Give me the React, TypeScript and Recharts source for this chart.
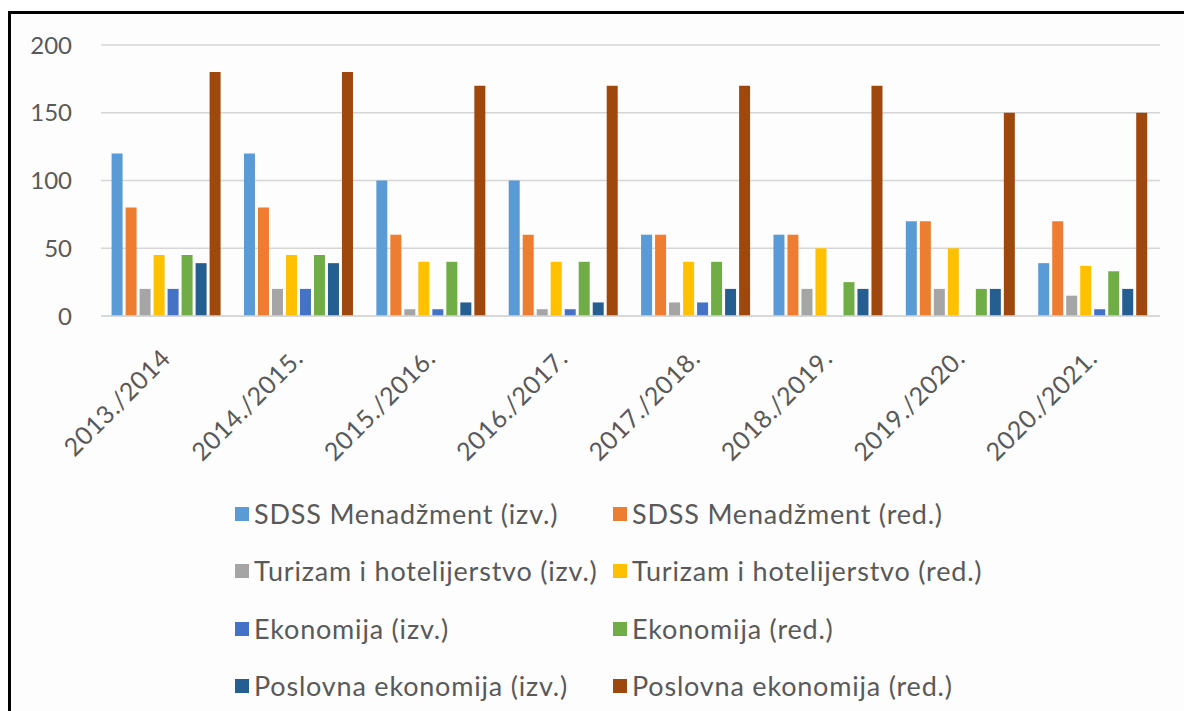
import React from "react";
import { BarChart, Bar, XAxis, YAxis, CartesianGrid, Legend } from "recharts";

const categories = [
  "2013./2014",
  "2014./2015.",
  "2015./2016.",
  "2016./2017.",
  "2017./2018.",
  "2018./2019.",
  "2019./2020.",
  "2020./2021.",
];

const sdssIzv = [120, 120, 100, 100, 60, 60, 70, 39];
const sdssRed = [80, 80, 60, 60, 60, 60, 70, 70];
const turizamIzv = [20, 20, 5, 5, 10, 20, 20, 15];
const turizamRed = [45, 45, 40, 40, 40, 50, 50, 37];
const ekonomijaIzv = [20, 20, 5, 5, 10, 0, 0, 5];
const ekonomijaRed = [45, 45, 40, 40, 40, 25, 20, 33];
const poslovnaIzv = [39, 39, 10, 10, 20, 20, 20, 20];
const poslovnaRed = [180, 180, 170, 170, 170, 170, 150, 150];

const yTicks = [0, 50, 100, 150, 200];

const seriesNames = [
  "SDSS Menadžment (izv.)",
  "SDSS Menadžment (red.)",
  "Turizam i hotelijerstvo (izv.)",
  "Turizam i hotelijerstvo (red.)",
  "Ekonomija (izv.)",
  "Ekonomija (red.)",
  "Poslovna ekonomija (izv.)",
  "Poslovna ekonomija (red.)",
];
const seriesValues = [
  sdssIzv,
  sdssRed,
  turizamIzv,
  turizamRed,
  ekonomijaIzv,
  ekonomijaRed,
  poslovnaIzv,
  poslovnaRed,
];
const seriesColors = [
  "#5B9BD5",
  "#ED7D31",
  "#A5A5A5",
  "#FFC000",
  "#4472C4",
  "#70AD47",
  "#255E91",
  "#9E480E",
];

const data = categories.map((c, i) => {
  const row: Record<string, string | number> = { name: c };
  seriesNames.forEach((s, k) => {
    row["s" + k] = seriesValues[k][i];
  });
  return row;
});

const FONT = "Lato, 'Open Sans', sans-serif";
const TEXT = "#595959";

const XTick = (props: any) => {
  const { x, y, payload } = props;
  return (
    <g transform={`translate(${x + 5},${y + 44})`}>
      <text
        transform="rotate(-45)"
        textAnchor="end"
        fill={TEXT}
        fontSize={25}
        fontFamily={FONT}
        letterSpacing={0.5}
      >
        {payload.value}
      </text>
    </g>
  );
};

const LegendContent = () => {
  return (
    <div style={{ position: "relative", width: 1173, height: 226 }}>
      {seriesNames.map((name, i) => {
        const col = i % 2;
        const row = Math.floor(i / 2);
        const left = col === 0 ? 224 : 602;
        const centerY = 28.75 + row * 57.5;
        return (
          <div
            key={name}
            style={{
              position: "absolute",
              left,
              top: centerY - 16,
              height: 32,
              display: "flex",
              alignItems: "center",
              whiteSpace: "nowrap",
            }}
          >
            <span
              style={{
                display: "inline-block",
                width: 14,
                height: 14,
                background: seriesColors[i],
                marginRight: 5,
              }}
            />
            <span
              style={{
                fontFamily: FONT,
                fontSize: 27,
                letterSpacing: "0.8px",
                color: TEXT,
                lineHeight: "32px",
              }}
            >
              {name}
            </span>
          </div>
        );
      })}
    </div>
  );
};

export default function App() {
  return (
    <>
      <style>{`body{margin:0;overflow:hidden;background:#fff}`}</style>
      <div
        style={{
          position: "absolute",
          left: 8,
          top: 11,
          width: 1176,
          height: 700,
          boxSizing: "border-box",
          borderTop: "3px solid #000",
          borderLeft: "3px solid #000",
          background: "#fdfdfd",
          overflow: "hidden",
        }}
      >
        <BarChart
          width={1173}
          height={697}
          data={data}
          margin={{ top: 31, right: 24, left: 30, bottom: 0 }}
          barGap={3}
          barCategoryGap="8%"
        >
          <CartesianGrid vertical={false} stroke="#d6d6d6" strokeWidth={1.5} />
          <XAxis
            dataKey="name"
            interval={0}
            height={169}
            tickSize={0}
            tickMargin={0}
            axisLine={{ stroke: "#d6d6d6", strokeWidth: 1.5 }}
            tickLine={false}
            tick={<XTick />}
          />
          <YAxis
            domain={[0, 200]}
            ticks={yTicks}
            width={60}
            tickSize={0}
            tickMargin={29}
            axisLine={false}
            tickLine={false}
            tick={{ fill: TEXT, fontSize: 24, fontFamily: FONT }}
          />
          <Legend
            verticalAlign="bottom"
            height={226}
            wrapperStyle={{ left: 0, width: 1173, bottom: 0 }}
            content={<LegendContent />}
          />
          {seriesNames.map((s, k) => (
            <Bar
              key={s}
              dataKey={"s" + k}
              name={s}
              fill={seriesColors[k]}
              isAnimationActive={false}
            />
          ))}
        </BarChart>
      </div>
    </>
  );
}
